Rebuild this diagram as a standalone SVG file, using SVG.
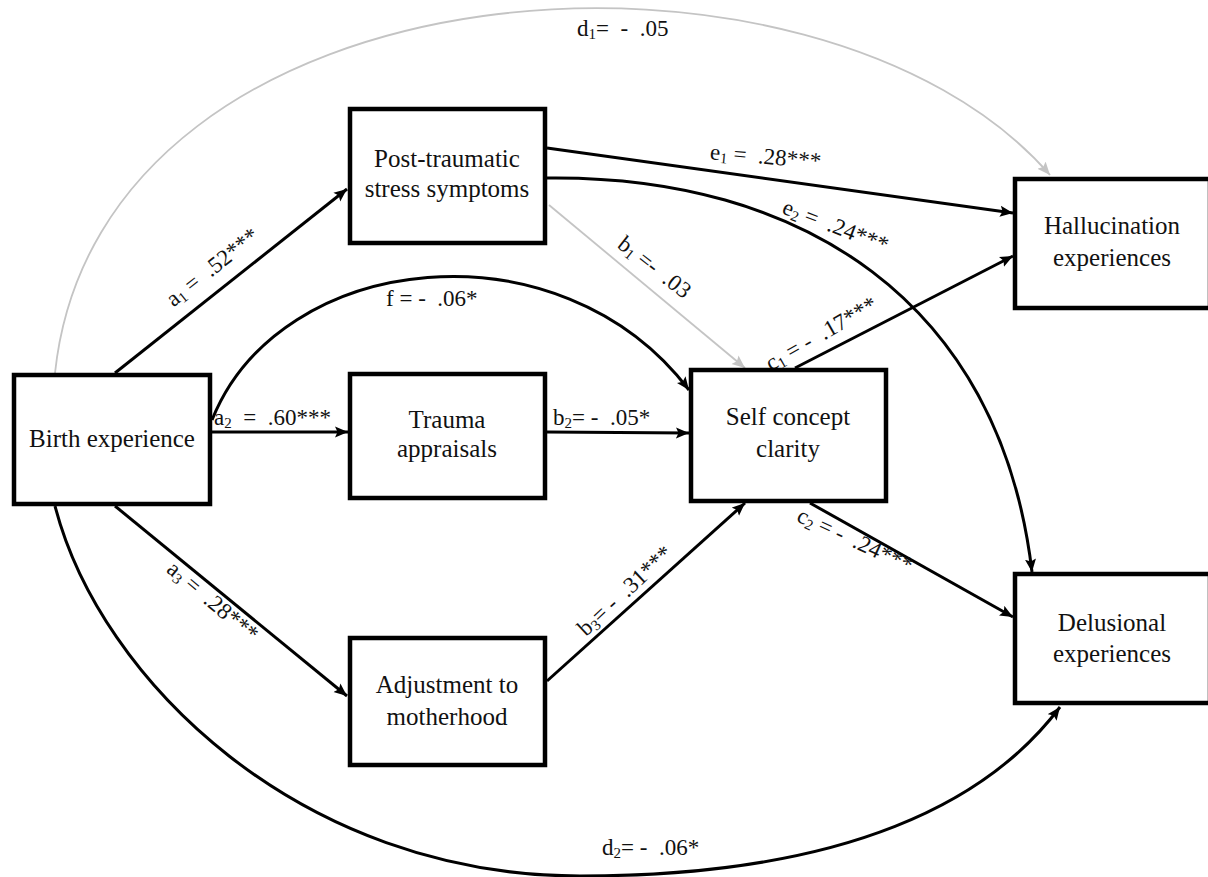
<svg xmlns="http://www.w3.org/2000/svg" width="1208" height="877" viewBox="0 0 1208 877">
  <style>
    .box { fill: #ffffff; stroke: #000000; stroke-width: 4.5; }
    .path { fill: none; stroke: #000000; stroke-width: 3; }
    .weak { fill: none; stroke: #c4c4c4; stroke-width: 1.8; }
  </style>
  <defs>
    <marker id="arrow" markerUnits="userSpaceOnUse" markerWidth="14" markerHeight="12" refX="13" refY="6" orient="auto">
      <path d="M0,0.5 L13,6 L0,11.5 L2.5,6 z" fill="#000000"/>
    </marker>
    <marker id="arrowGray" markerUnits="userSpaceOnUse" markerWidth="14" markerHeight="12" refX="13" refY="6" orient="auto">
      <path d="M0,0.5 L13,6 L0,11.5 L2.5,6 z" fill="#c4c4c4"/>
    </marker>
  </defs>

  <rect width="1208" height="877" fill="#ffffff"/>

  <!-- connectors -->
  <g id="connectors">
    <path id="d1" class="weak" d="M 55 373 C 100 -50, 820 -90, 1050 175" marker-end="url(#arrowGray)"/>
    <path id="d2" class="path" d="M 55 506 C 100 680, 300 876, 580 876 C 850 876, 990 800, 1060 707" marker-end="url(#arrow)"/>
    <path id="a1" class="path" d="M 115 373 L 347 189" marker-end="url(#arrow)"/>
    <path id="a2" class="path" d="M 212 432 L 348 432" marker-end="url(#arrow)"/>
    <path id="a3" class="path" d="M 115 506 L 347 696" marker-end="url(#arrow)"/>
    <path id="f" class="path" d="M 212 420 C 280 250, 560 220, 689 390" marker-end="url(#arrow)"/>
    <path id="b1" class="weak" d="M 549 205 L 745 368" marker-end="url(#arrowGray)"/>
    <path id="b2" class="path" d="M 547 432 L 689 433" marker-end="url(#arrow)"/>
    <path id="b3" class="path" d="M 547 681 L 745 503" marker-end="url(#arrow)"/>
    <path id="c1" class="path" d="M 795 368 L 1013 256" marker-end="url(#arrow)"/>
    <path id="c2" class="path" d="M 810 503 L 1013 617" marker-end="url(#arrow)"/>
    <path id="e1" class="path" d="M 547 148 L 1013 213" marker-end="url(#arrow)"/>
    <path id="e2" class="path" d="M 547 178 C 800 175, 1000 300, 1032 572" marker-end="url(#arrow)"/>

    <!-- path coefficients -->
    <g fill="#111111" font-size="23">
      <text font-family="Liberation Serif" x="577" y="36" xml:space="preserve">d<tspan font-size="15" dy="3">1</tspan><tspan dy="-3">=  -  .05</tspan></text>
      <text font-family="Liberation Serif" x="602" y="855" xml:space="preserve">d<tspan font-size="15" dy="3">2</tspan><tspan dy="-3">= -  .06*</tspan></text>
      <text font-family="Liberation Serif" text-anchor="middle" transform="translate(217 273) rotate(-38.5)" xml:space="preserve">a<tspan font-size="15" dy="3">1</tspan><tspan dy="-3"> =  .52***</tspan></text>
      <text font-family="Liberation Serif" x="214" y="425" xml:space="preserve">a<tspan font-size="15" dy="3">2</tspan><tspan dy="-3">  =  .60***</tspan></text>
      <text font-family="Liberation Serif" text-anchor="middle" transform="translate(208 607) rotate(40)" xml:space="preserve">a<tspan font-size="15" dy="3">3</tspan><tspan dy="-3"> =  .28***</tspan></text>
      <text font-family="Liberation Serif" x="386" y="306" xml:space="preserve">f = -  .06*</text>
      <text font-family="Liberation Serif" text-anchor="middle" transform="translate(650 273) rotate(38)" xml:space="preserve">b<tspan font-size="15" dy="3">1</tspan><tspan dy="-3"> =-  .03</tspan></text>
      <text font-family="Liberation Serif" x="553" y="425" xml:space="preserve">b<tspan font-size="15" dy="3">2</tspan><tspan dy="-3">= -  .05*</tspan></text>
      <text font-family="Liberation Serif" text-anchor="middle" transform="translate(630 596) rotate(-43)" xml:space="preserve">b<tspan font-size="15" dy="3">3</tspan><tspan dy="-3">= -  .31***</tspan></text>
      <text font-family="Liberation Serif" text-anchor="middle" transform="translate(825 340) rotate(-30)" xml:space="preserve">c<tspan font-size="15" dy="3">1</tspan><tspan dy="-3"> = -  .17***</tspan></text>
      <text font-family="Liberation Serif" text-anchor="middle" transform="translate(852 547) rotate(25)" xml:space="preserve">c<tspan font-size="15" dy="3">2</tspan><tspan dy="-3"> = -  .24***</tspan></text>
      <text font-family="Liberation Serif" text-anchor="middle" transform="translate(765 164) rotate(5)" xml:space="preserve">e<tspan font-size="15" dy="3">1</tspan><tspan dy="-3"> =  .28***</tspan></text>
      <text font-family="Liberation Serif" text-anchor="middle" transform="translate(833 233) rotate(21)" xml:space="preserve">e<tspan font-size="15" dy="3">2</tspan><tspan dy="-3"> =  .24***</tspan></text>
    </g>
  </g>

  <!-- nodes -->
  <g id="birth" fill="#111111" font-size="25" text-anchor="middle">
    <rect class="box" x="14" y="375" width="196" height="129"/>
    <text font-family="Liberation Serif" x="112" y="447">Birth experience</text>
  </g>
  <g id="ptss" fill="#111111" font-size="25" text-anchor="middle">
    <rect class="box" x="350" y="109" width="195" height="134"/>
    <text font-family="Liberation Serif" x="447" y="167">Post-traumatic</text>
    <text font-family="Liberation Serif" x="447" y="197">stress symptoms</text>
  </g>
  <g id="appraisals" fill="#111111" font-size="25" text-anchor="middle">
    <rect class="box" x="350" y="374" width="195" height="124"/>
    <text font-family="Liberation Serif" x="447" y="428">Trauma</text>
    <text font-family="Liberation Serif" x="447" y="457">appraisals</text>
  </g>
  <g id="adjustment" fill="#111111" font-size="25" text-anchor="middle">
    <rect class="box" x="350" y="638" width="195" height="127"/>
    <text font-family="Liberation Serif" x="447" y="693">Adjustment to</text>
    <text font-family="Liberation Serif" x="447" y="725">motherhood</text>
  </g>
  <g id="selfconcept" fill="#111111" font-size="25" text-anchor="middle">
    <rect class="box" x="691" y="370" width="195" height="131"/>
    <text font-family="Liberation Serif" x="788" y="425">Self concept</text>
    <text font-family="Liberation Serif" x="788" y="457">clarity</text>
  </g>
  <g id="hallucination" fill="#111111" font-size="25" text-anchor="middle">
    <rect class="box" x="1015" y="179" width="195" height="129"/>
    <text font-family="Liberation Serif" x="1112" y="234">Hallucination</text>
    <text font-family="Liberation Serif" x="1112" y="266">experiences</text>
  </g>
  <g id="delusional" fill="#111111" font-size="25" text-anchor="middle">
    <rect class="box" x="1015" y="574" width="195" height="129"/>
    <text font-family="Liberation Serif" x="1112" y="631">Delusional</text>
    <text font-family="Liberation Serif" x="1112" y="662">experiences</text>
  </g>
</svg>
